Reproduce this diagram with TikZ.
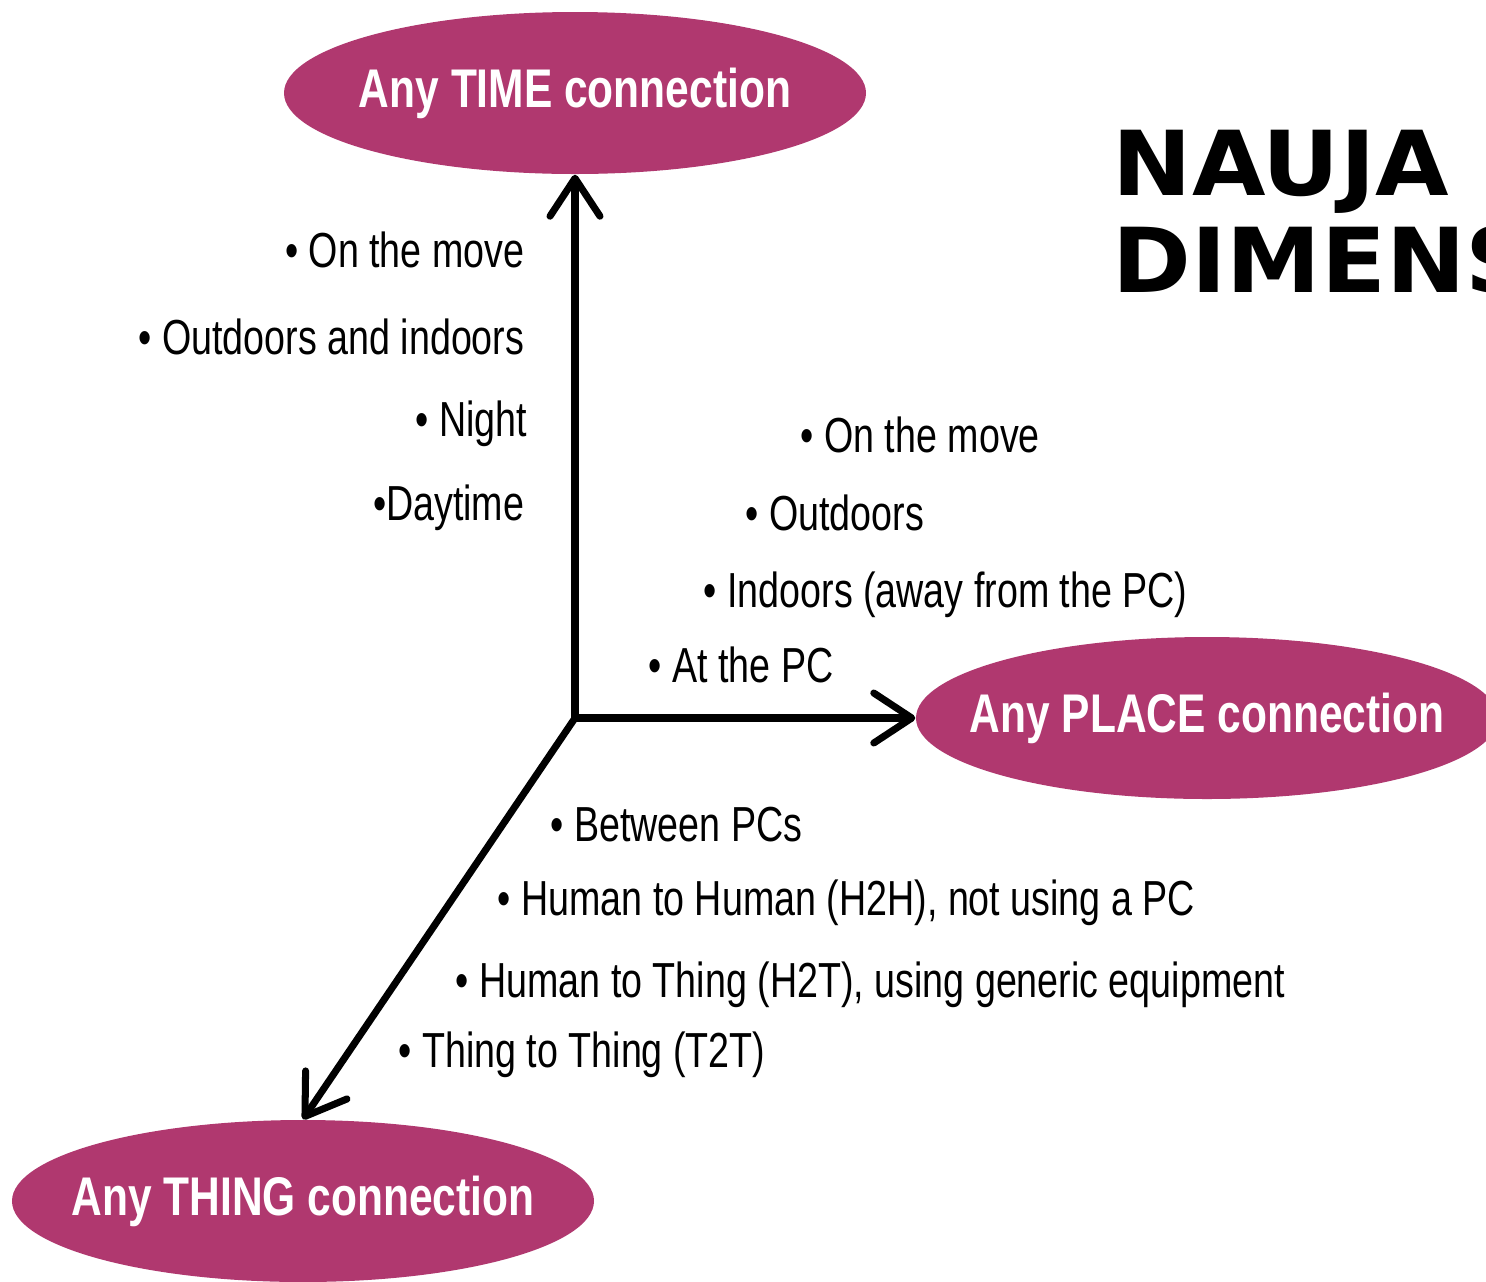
\documentclass[tikz,border=0pt]{standalone}
\usepackage{fontspec}
\setmainfont{Liberation Sans}
\newfontfamily\narrowfont{Liberation Sans}[FakeStretch=0.765]
\newfontfamily\headfont{Liberation Sans}[FakeStretch=0.78]
\newfontfamily\titlefont{DejaVu Sans}[FakeStretch=1.06]
\usetikzlibrary{shapes.geometric,arrows.meta}
\definecolor{anymagenta}{HTML}{B0386F}
\tikzset{
  conn/.style={ellipse, fill=anymagenta, text=white,
    inner xsep=-0.4cm, inner ysep=0pt,
    minimum width=5.82cm, minimum height=1.62cm,
    font=\headfont\bfseries\fontsize{15.5}{18}\selectfont},
  item/.style={inner sep=0pt, font=\narrowfont\fontsize{14}{16}\selectfont},
  axis/.style={line width=2pt, line cap=round,
    -{Straight Barb[length=3.8mm,width=5mm,line width=2pt,round]}},
  title/.style={inner sep=0pt, anchor=base west,
    font=\titlefont\bfseries\fontsize{25.5}{30}\selectfont},
}
\begin{document}
\begin{tikzpicture}
  \useasboundingbox (0,0) rectangle (14.86,-12.81);
  \begin{scope}
    \clip (0,0) rectangle (14.86,-12.81);
    % ellipses
    \node[conn] (time) at (5.75,-0.93) {Any TIME connection};
    \node[conn] (place) at (12.07,-7.18) {Any PLACE connection};
    \node[conn] (thing) at (3.03,-12.01) {Any THING connection};
    % title
    \node[title] (title1) at (11.12,-1.95) {NAUJA};
    \node[title] (title2) at (11.12,-2.92) {DIMENSIJA};
  \end{scope}
  % axes
  \coordinate (o) at (5.75,-7.18);
  \draw[axis] (o) -- (time.south);
  \draw[axis] (o) -- (place.west);
  \draw[axis] (o) -- (thing.north);
  % time items
  \node[item, anchor=east] (t1) at (5.25,-2.50) {• On the move};
  \node[item, anchor=east] (t2) at (5.25,-3.37) {• Outdoors and indoors};
  \node[item, anchor=east] (t3) at (5.28,-4.24) {• Night};
  \node[item, anchor=east] (t4) at (5.25,-5.08) {•Daytime};
  % place items
  \node[item, anchor=west] (p1) at (8.00,-4.35) {• On the move};
  \node[item, anchor=west] (p2) at (7.45,-5.13) {• Outdoors};
  \node[item, anchor=west] (p3) at (7.03,-5.95) {• Indoors (away from the PC)};
  \node[item, anchor=west] (p4) at (6.48,-6.65) {• At the PC};
  % thing items
  \node[item, anchor=west] (h1) at (5.50,-8.25) {• Between PCs};
  \node[item, anchor=west] (h2) at (4.97,-9.03) {• Human to Human (H2H), not using a PC};
  \node[item, anchor=west] (h3) at (4.55,-9.85) {• Human to Thing (H2T), using generic equipment};
  \node[item, anchor=west] (h4) at (3.98,-10.55) {• Thing to Thing (T2T)};
\end{tikzpicture}
\end{document}
